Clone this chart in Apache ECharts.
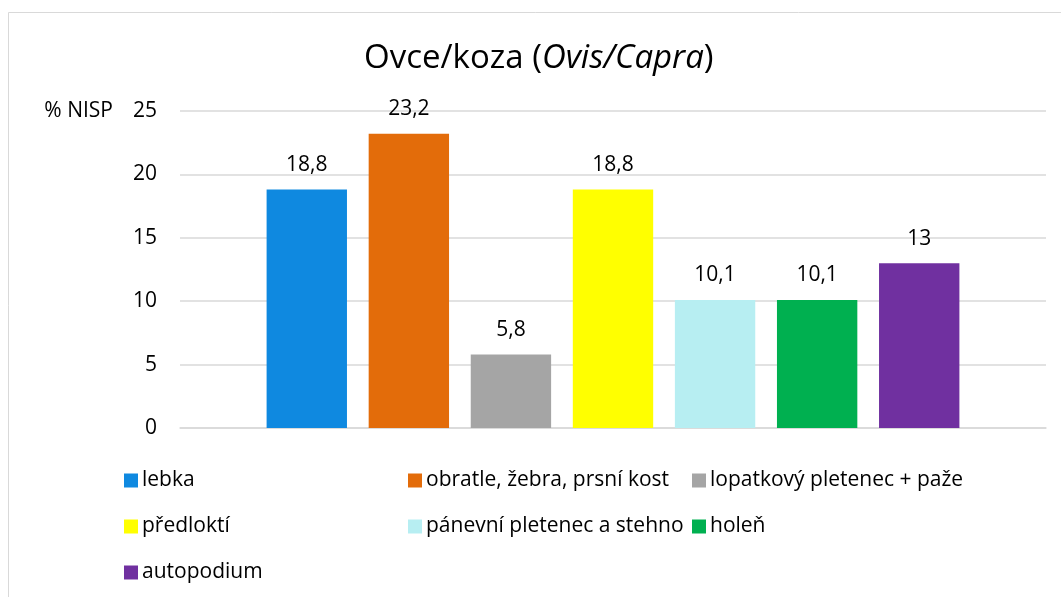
<!DOCTYPE html>
<html>
<head>
<meta charset="utf-8">
<script src="https://cdn.jsdelivr.net/npm/echarts@6/dist/echarts.min.js"></script>
<style>html,body{margin:0;padding:0;background:#fff}#c{width:1061px;height:597px}</style>
</head>
<body>
<div id="c"></div>
<script>
const categories = ['lebka', 'obratle, žebra, prsní kost', 'lopatkový pletenec + paže', 'předloktí', 'pánevní pletenec a stehno', 'holeň', 'autopodium'];
const values = [18.8, 23.2, 5.8, 18.8, 10.1, 10.1, 13];
const colors = ['#0F89E0', '#E36C0A', '#A5A5A5', '#FFFF00', '#B7EEF2', '#00B050', '#7030A0'];
const yTicks = [0, 5, 10, 15, 20, 25];
const legendColumns = [[0, 3, 6], [1, 4], [2, 5]];

const FONT = '"Open Sans", "Noto Sans", sans-serif';
const FS = 21;
const chart = echarts.init(document.getElementById('c'), null, {renderer: 'canvas'});

const series = categories.map((name, i) => ({
  name: name,
  type: 'bar',
  data: [values[i]],
  itemStyle: {color: colors[i]},
  barGap: '27%',
  barCategoryGap: '20%',
  label: {
    show: true,
    position: 'top',
    distance: 14,
    color: '#000',
    fontFamily: FONT,
    fontSize: FS,
    formatter: p => String(p.value).replace('.', ',')
  }
}));

const legendLeft = [124, 408, 692];
const legends = legendColumns.map((idxs, c) => ({
  orient: 'vertical',
  left: legendLeft[c],
  top: 470,
  padding: 0,
  itemGap: 25,
  itemWidth: 14,
  itemHeight: 14,
  icon: 'rect',
  selectedMode: false,
  data: idxs.map(i => categories[i]),
  textStyle: {fontFamily: FONT, fontSize: FS, lineHeight: 20, color: '#000', padding: [0, 0, 0, -1]}
}));

chart.setOption({
  animation: false,
  backgroundColor: '#fff',
  title: {
    text: '{n|Ovce/koza (}{i|Ovis/Capra}{n|)}',
    left: 364,
    top: 42,
    padding: 0,
    textStyle: {
      fontWeight: 'normal',
      rich: {
        n: {fontFamily: FONT, fontSize: 33, fontWeight: 'normal', color: '#000'},
        i: {fontFamily: FONT, fontSize: 33, fontWeight: 'normal', fontStyle: 'italic', color: '#000'}
      }
    }
  },
  graphic: [{
    type: 'rect',
    shape: {x: 8.5, y: 12.5, width: 1100, height: 700},
    style: {fill: 'none', stroke: '#d9d9d9', lineWidth: 1},
    silent: true,
    z: -1
  }],
  legend: legends,
  grid: {left: 180, right: 15, top: 111, bottom: 169},
  xAxis: {
    type: 'category',
    data: [''],
    axisLine: {show: true, lineStyle: {color: '#d9d9d9', width: 1.5}},
    axisTick: {show: false},
    axisLabel: {show: false}
  },
  yAxis: {
    type: 'value',
    min: yTicks[0],
    max: yTicks[yTicks.length - 1],
    interval: 5,
    name: '% NISP',
    nameLocation: 'end',
    nameGap: 0,
    nameTextStyle: {fontFamily: FONT, fontSize: FS, color: '#000', align: 'right', verticalAlign: 'middle', padding: [0, 67, 0, 0]},
    axisLine: {show: false},
    axisTick: {show: false},
    axisLabel: {fontFamily: FONT, fontSize: FS, color: '#000', margin: 23},
    splitLine: {lineStyle: {color: '#d9d9d9', width: 1.5}}
  },
  series: series
});
</script>
</body>
</html>
